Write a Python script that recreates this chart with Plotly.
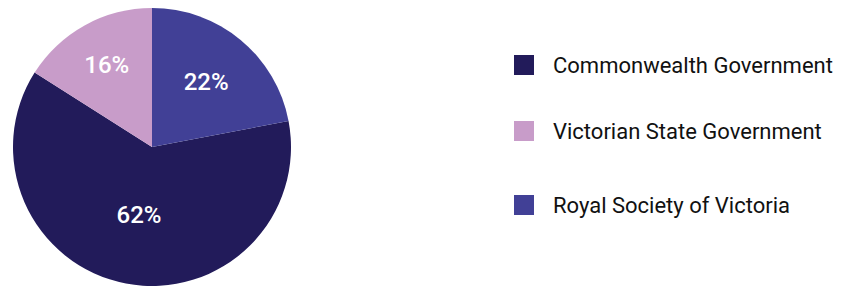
import plotly.graph_objects as go

labels = ["Commonwealth Government", "Victorian State Government", "Royal Society of Victoria"]
values = [62, 16, 22]
colors = ["#221B5A", "#C89CC9", "#414096"]

OFF = 8  # page body margin offset
W, H = 841 - OFF, 286 - OFF

fig = go.Figure(go.Pie(
    labels=labels, values=values, sort=False, direction="clockwise", rotation=79.2,
    marker=dict(colors=colors, line=dict(width=0)),
    textinfo="percent", textposition="inside", insidetextorientation="horizontal",
    texttemplate="%{percent:.0%}",
    textfont=dict(family="Roboto", size=24, color="white", weight=500),
    domain=dict(x=[(13 - OFF) / W, (291 - OFF) / W], y=[0, 1]),
    showlegend=False, hoverinfo="label+percent",
))

leg_y = [65, 131, 205]
shapes, annotations = [], []
for lab, col, yc in zip(labels, colors, leg_y):
    yc -= OFF
    shapes.append(dict(type="rect", xref="paper", yref="paper",
                       x0=(514 - OFF) / W, x1=(534 - OFF) / W,
                       y0=1 - (yc + 10) / H, y1=1 - (yc - 10) / H,
                       fillcolor=col, line=dict(width=0)))
    annotations.append(dict(text=lab, xref="paper", yref="paper", x=(551 - OFF) / W, y=1 - yc / H,
                            xanchor="left", yanchor="middle", showarrow=False,
                            font=dict(family="Roboto", size=22, color="#111111")))

fig.update_layout(width=W, height=H, margin=dict(l=0, r=0, t=0, b=0),
                  paper_bgcolor="white", plot_bgcolor="white",
                  shapes=shapes, annotations=annotations)
fig.write_html("out.html")
